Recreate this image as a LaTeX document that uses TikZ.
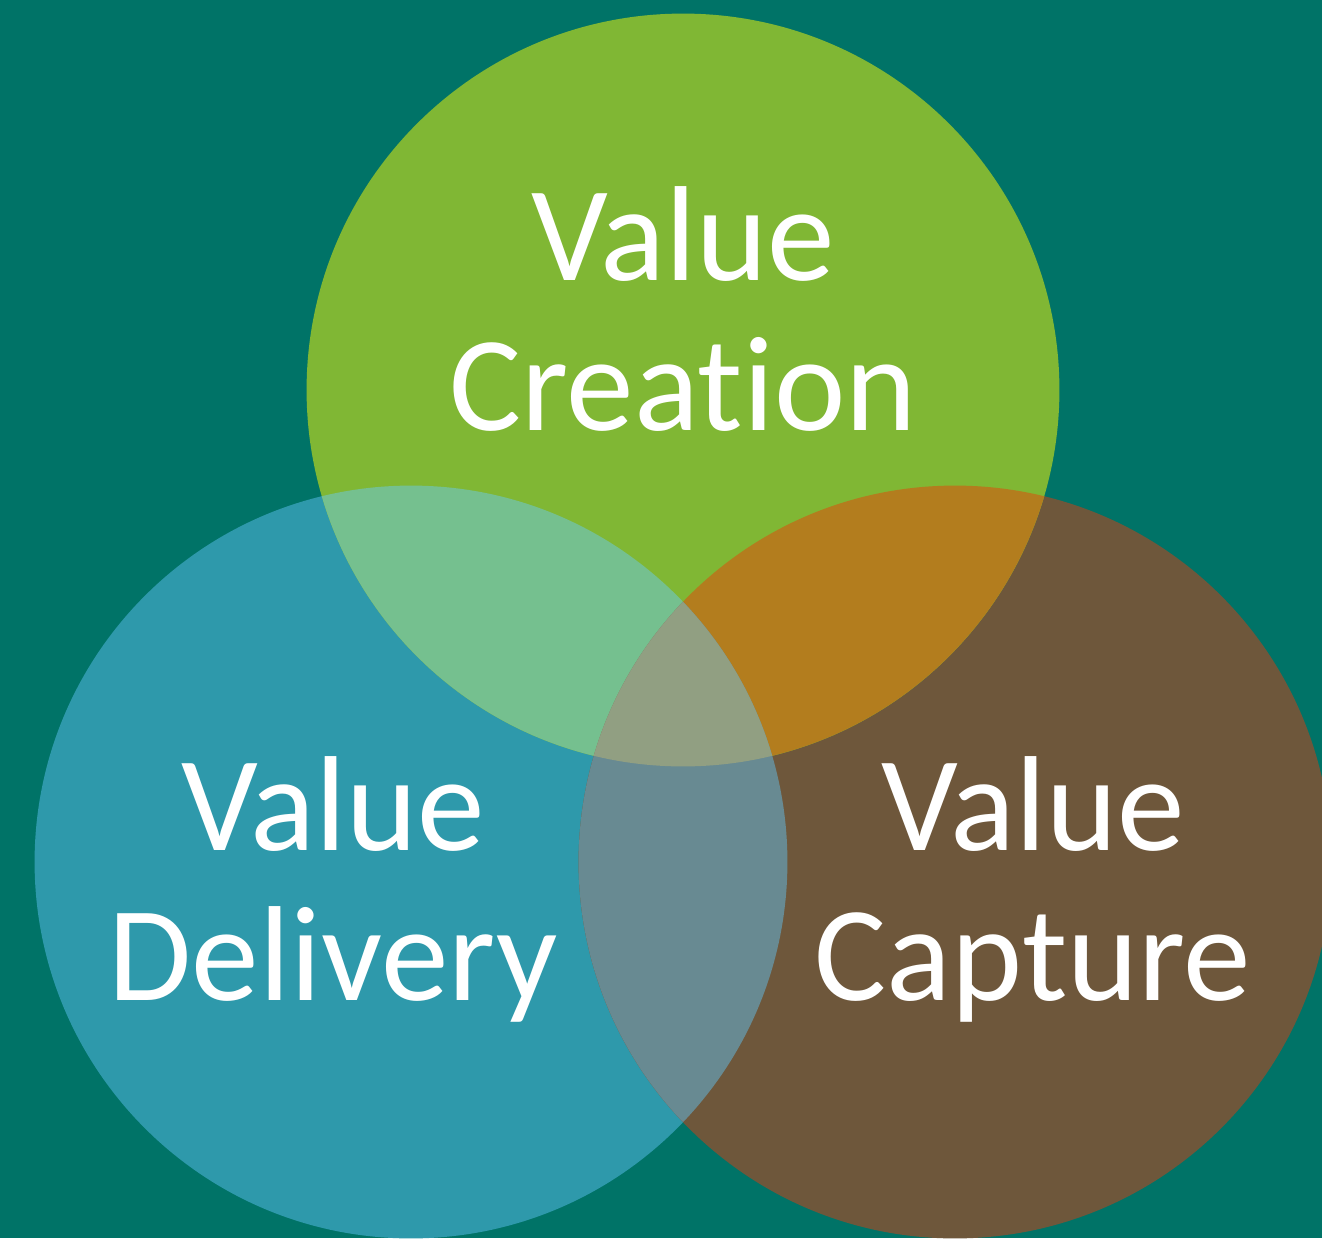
\documentclass[tikz,border=0pt]{standalone}
\usepackage{fontspec}
\setmainfont{Carlito}[Ligatures={NoCommon,NoRare}]

\definecolor{bgteal}{HTML}{007367}
\definecolor{creationgreen}{HTML}{80B734}
\definecolor{deliveryblue}{HTML}{2E99AB}
\definecolor{capturebrown}{HTML}{6E573B}
\definecolor{greenblue}{HTML}{75C08F}
\definecolor{greenbrown}{HTML}{B37D1E}
\definecolor{bluebrown}{HTML}{688A92}
\definecolor{allthree}{HTML}{919F82}

\tikzset{
    vennlabel/.style={text=white, align=center, inner sep=0pt, anchor=base,
        font=\fontsize{77}{85}\selectfont}
}

\begin{document}
\begin{tikzpicture}[x=0.02cm, y=-0.02cm]
            \useasboundingbox (0,0) rectangle (1322,1238);
            \clip (0,0) rectangle (1322,1238);
            \fill [bgteal] (0,0) rectangle (1322,1238);

            \def\rad{7.53cm}
            \coordinate (creation) at (683,390);
            \coordinate (delivery) at (411,862);
            \coordinate (capture) at (955,862);

            % the three circles
            \fill [deliveryblue] (delivery) circle [radius=\rad];
            \fill [capturebrown] (capture) circle [radius=\rad];
            \fill [creationgreen] (creation) circle [radius=\rad];

            % overlaps of two
            \begin{scope}
                \clip (creation) circle [radius=\rad];
                \fill [greenblue] (delivery) circle [radius=\rad];
                \fill [greenbrown] (capture) circle [radius=\rad];
            \end{scope}
            \begin{scope}
                \clip (delivery) circle [radius=\rad];
                \fill [bluebrown] (capture) circle [radius=\rad];
            \end{scope}

            % overlap of all three
            \begin{scope}
                \clip (creation) circle [radius=\rad];
                \clip (delivery) circle [radius=\rad];
                \fill [allthree] (capture) circle [radius=\rad];
            \end{scope}

            % labels, anchored at the baseline of the second line
            \node [vennlabel] (creationlabel) at (683,430) {Value\\Creation};
            \node [vennlabel] (deliverylabel) at (333,1000) {Value\\Delivery};
            \node [vennlabel] (capturelabel) at (1033,1000) {Value\\Capture};
\end{tikzpicture}
\end{document}
